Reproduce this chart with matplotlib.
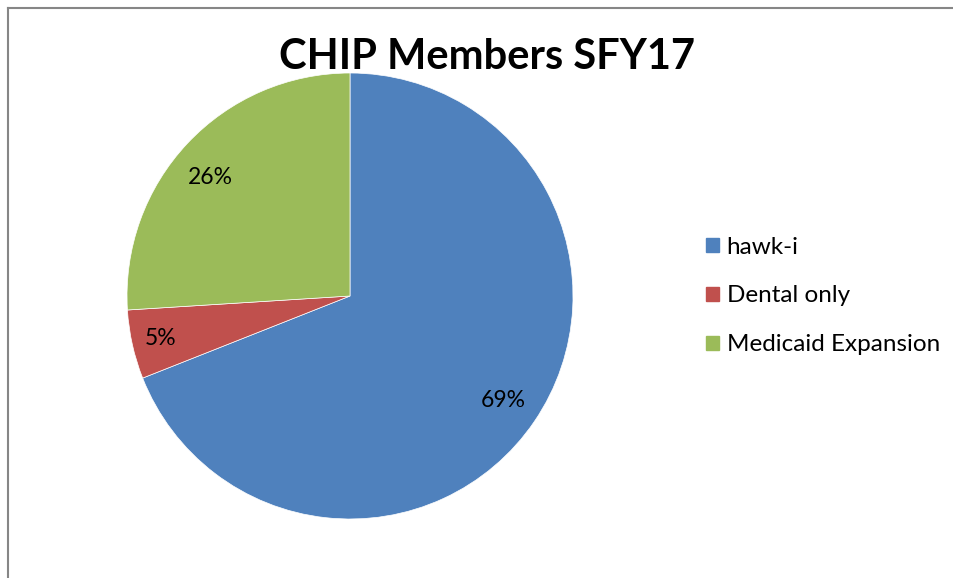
import matplotlib
matplotlib.use('Agg')
import matplotlib.pyplot as plt
from matplotlib.lines import Line2D

labels = ['hawk-i', 'Dental only', 'Medicaid Expansion']
shares = [69, 5, 26]
colors = ['#4F81BD', '#C0504D', '#9BBB59']
title = 'CHIP Members SFY17'

plt.rcParams['font.family'] = ['Lato', 'DejaVu Sans']

W, H = 954, 578


def main():
    fig = plt.figure(figsize=(W / 100, H / 100), dpi=100)

    # pie: centre (350, 296) px, radius 223 px
    cx, cy, r = 350, 296, 223
    ax = fig.add_axes([(cx - r) / W, (H - cy - r) / H, 2 * r / W, 2 * r / H])
    wedges, texts, autotexts = ax.pie(
        shares, colors=colors, startangle=90, counterclock=False,
        autopct='%1.0f%%', pctdistance=0.83,
        wedgeprops=dict(edgecolor='white', linewidth=0.5),
        textprops=dict(fontsize=16.5, color='black'))
    # the small slice label sits a bit further out
    x, y = autotexts[1].get_position()
    autotexts[1].set_position((x * 0.87 / 0.83, y * 0.87 / 0.83))
    # the green label sits a bit lower than its mid angle
    x, y = autotexts[2].get_position()
    autotexts[2].set_position((x - 0.02, y - 0.035))
    ax.set_xlim(-1, 1)
    ax.set_ylim(-1, 1)
    ax.axis('off')

    fig.text(487 / W, 1 - 57 / H, title, ha='center', va='center',
             fontsize=30, fontweight='bold')

    handles = [plt.Rectangle((0, 0), 1, 1, color=c) for c in colors]
    fig.legend(handles, labels, loc='center left',
               bbox_to_anchor=(696 / W, 1 - 296 / H), frameon=False,
               borderaxespad=0, fontsize=17.5, handlelength=0.53,
               handleheight=0.53, handletextpad=0.33, labelspacing=1.15)

    # chart area border (left and top only)
    fig.add_artist(Line2D([8 / W, 8 / W], [0, 1 - 8 / H], color='#868686',
                          lw=1.5, transform=fig.transFigure))
    fig.add_artist(Line2D([8 / W, 1], [1 - 8 / H, 1 - 8 / H], color='#868686',
                          lw=1.5, transform=fig.transFigure))

    fig.savefig('out.png', dpi=100)


if __name__ == '__main__':
    main()
